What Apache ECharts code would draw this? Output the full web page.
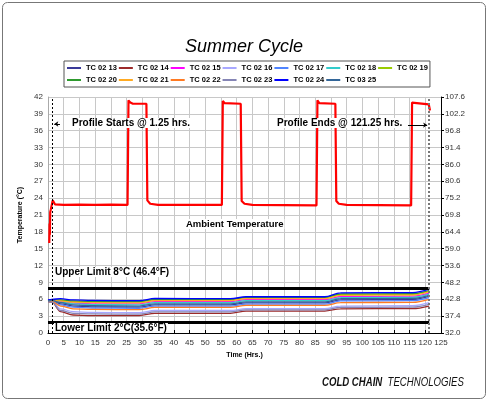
<!DOCTYPE html>
<html>
<head>
<meta charset="utf-8">
<script src="https://cdn.jsdelivr.net/npm/echarts@6/dist/echarts.min.js"></script>
<style>
  html, body { margin: 0; padding: 0; background: #fff; }
  #chart { width: 488px; height: 400px; }
</style>
</head>
<body>
<div id="chart"></div>
<script>
// time points (hrs) for the product thermocouples
const tcTimes = [0, 1.25, 4, 8, 14, 29, 34, 58, 63, 88, 93, 116, 121.25];

const tcNames = ['TC 02 13', 'TC 02 14', 'TC 02 15', 'TC 02 16', 'TC 02 17', 'TC 02 18', 'TC 02 19',
                 'TC 02 20', 'TC 02 21', 'TC 02 22', 'TC 02 23', 'TC 02 24', 'TC 03 25'];
const tcColors = ['#3a3a99', '#9c2a2a', '#ff00ff', '#a8a8ff', '#4f84ff', '#33cccc', '#99cc00',
                  '#2e9a2e', '#ffaa22', '#ff7a22', '#8585b5', '#0000ff', '#336699'];

const tc0213 = [5.7, 5.7, 5.2, 4.8, 4.65, 4.6, 5.0, 5.0, 5.35, 5.35, 5.9, 5.95, 6.5];
const tc0214 = [5.6, 5.5, 3.8, 3.2, 3.1, 3.1, 3.5, 3.5, 3.9, 3.9, 4.3, 4.35, 4.8];
const tc0215 = [5.8, 5.8, 5.6, 5.3, 5.2, 5.2, 5.6, 5.6, 5.95, 5.95, 6.5, 6.55, 7.1];
const tc0216 = [5.6, 5.6, 4.3, 3.8, 3.65, 3.6, 4.0, 4.0, 4.35, 4.35, 4.8, 4.85, 5.4];
const tc0217 = [5.7, 5.7, 5.0, 4.6, 4.45, 4.4, 4.8, 4.8, 5.15, 5.15, 5.7, 5.75, 6.3];
const tc0218 = [5.7, 5.8, 5.5, 5.2, 5.05, 5.0, 5.4, 5.4, 5.75, 5.75, 6.3, 6.35, 6.9];
const tc0219 = [5.8, 5.9, 5.8, 5.6, 5.5, 5.5, 5.9, 5.9, 6.25, 6.25, 6.85, 6.9, 7.45];
const tc0220 = [5.8, 5.9, 5.9, 5.7, 5.6, 5.6, 6.0, 6.0, 6.35, 6.35, 6.95, 7.0, 7.55];
const tc0221 = [5.8, 5.8, 5.7, 5.5, 5.4, 5.35, 5.75, 5.75, 6.1, 6.1, 6.7, 6.75, 7.35];
const tc0222 = [5.6, 5.6, 4.8, 4.3, 4.2, 4.15, 4.55, 4.55, 4.9, 4.9, 5.4, 5.45, 6.0];
const tc0223 = [5.6, 5.5, 4.0, 3.5, 3.4, 3.35, 3.75, 3.75, 4.1, 4.1, 4.55, 4.6, 5.1];
const tc0224 = [5.9, 6.0, 6.1, 5.9, 5.8, 5.75, 6.15, 6.1, 6.45, 6.45, 7.15, 7.2, 7.8];
const tc0325 = [5.7, 5.8, 5.4, 5.0, 4.85, 4.8, 5.2, 5.2, 5.55, 5.55, 6.1, 6.15, 6.7];
const tcValues = [tc0213, tc0214, tc0215, tc0216, tc0217, tc0218, tc0219,
                  tc0220, tc0221, tc0222, tc0223, tc0224, tc0325];

// ambient temperature [hrs, degC]
const ambient = [
  [0.4, 16.0], [0.5, 19.5], [0.6, 17.5], [0.7, 21.5], [0.9, 22.0], [1.2, 22.8], [1.5, 23.6], [1.9, 23.4],
  [2.2, 22.9], [5, 22.8], [10, 22.85], [15, 22.8], [20, 22.85], [25.3, 22.8],
  [25.6, 41.4], [26.2, 41.0], [27, 40.8], [31.3, 40.8],
  [31.6, 23.6], [32.5, 23.0], [35, 22.8], [45, 22.8], [55.3, 22.8],
  [55.6, 41.3], [56.2, 40.9], [61.3, 40.8],
  [61.6, 23.5], [62.5, 23.0], [65, 22.8], [75, 22.75], [85.4, 22.7],
  [85.7, 41.4], [86.3, 40.9], [91.4, 40.8],
  [91.7, 23.5], [92.5, 23.0], [95, 22.8], [105, 22.75], [115.5, 22.7],
  [115.8, 41.0], [116.4, 40.8], [121.1, 40.7], [121.5, 39.6]
];

const upperLimit = 8;
const lowerLimit = 2;
const profileStart = 1.25;
const profileEnd = 121.25;

const yTicksF = ['32.0', '37.4', '42.8', '48.2', '53.6', '59.0', '64.4', '69.8', '75.2', '80.6', '86.0', '91.4', '96.8', '102.2', '107.6'];

const chart = echarts.init(document.getElementById('chart'));

const boldTxt = {fontFamily: 'Liberation Sans, Arial', fontWeight: 'bold', fontSize: 10, fill: '#000', backgroundColor: '#fff', padding: [0, 1]};

let series = tcNames.map((n, i) => ({
  name: n,
  type: 'line',
  symbol: 'none',
  smooth: 0.35,
  smoothMonotone: 'x',
  color: tcColors[i],
  lineStyle: {width: 1.3},
  data: tcTimes.map((t, k) => [t, tcValues[i][k]]),
  z: 3
}));

series.push({
  name: 'Ambient',
  type: 'line',
  symbol: 'none',
  color: '#ff0000',
  lineStyle: {width: 2.2},
  data: ambient,
  z: 4
});

series.push({
  name: 'marks',
  type: 'line',
  data: [],
  markLine: {
    silent: true,
    symbol: 'none',
    label: {show: false},
    data: [
      [{coord: [0, upperLimit], lineStyle: {color: '#000', width: 3, type: 'solid'}}, {coord: [profileEnd, upperLimit]}],
      [{coord: [0, lowerLimit], lineStyle: {color: '#000', width: 3, type: 'solid'}}, {coord: [profileEnd, lowerLimit]}],
      {xAxis: profileStart, lineStyle: {color: '#000', width: 1, type: [2, 2]}},
      {xAxis: profileEnd, lineStyle: {color: '#777', width: 2, type: [2, 2]}},
      [{coord: [3.8, 37.2], symbol: 'none', lineStyle: {color: '#000', width: 1, type: 'solid'}},
       {coord: [2.0, 37.2], symbol: 'arrow', symbolSize: 4}],
      [{coord: [114.5, 37.0], symbol: 'none', lineStyle: {color: '#000', width: 1, type: 'solid'}},
       {coord: [120.6, 37.0], symbol: 'arrow', symbolSize: 4}]
    ]
  }
});

const axisLbl = {fontSize: 8, color: '#333', fontFamily: 'Liberation Sans, Arial'};

chart.setOption({
  animation: false,
  title: {
    text: 'Summer Cycle',
    left: 'center',
    top: 33,
    textStyle: {fontFamily: 'Liberation Sans, Arial', fontStyle: 'italic', fontWeight: 'normal', fontSize: 18, color: '#000'}
  },
  legend: {
    data: tcNames,
    left: 64,
    top: 61,
    width: 366,
    padding: [2, 2, 2, 3],
    borderColor: '#555',
    borderWidth: 1,
    itemGap: 2,
    itemWidth: 14,
    itemHeight: 2,
    icon: 'rect',
    textStyle: {fontSize: 7.5, fontWeight: 'bold', color: '#000', fontFamily: 'Liberation Sans, Arial', lineHeight: 10}
  },
  grid: {left: 48, right: 47, top: 97, bottom: 67},
  xAxis: {
    type: 'value',
    min: 0, max: 125, interval: 5,
    name: 'Time (Hrs.)',
    nameLocation: 'middle',
    nameGap: 17,
    nameTextStyle: {fontSize: 7, fontWeight: 'bold', color: '#000', fontFamily: 'Liberation Sans, Arial'},
    axisLine: {lineStyle: {color: '#000', width: 1}},
    axisTick: {inside: true, length: 3, lineStyle: {color: '#000'}},
    axisLabel: Object.assign({margin: 6}, axisLbl),
    splitLine: {lineStyle: {color: '#c8c8c8', width: 1}}
  },
  yAxis: [{
    type: 'value',
    min: 0, max: 42, interval: 3,
    name: 'Temperature (°C)',
    nameLocation: 'middle',
    nameGap: 20,
    nameRotate: 90,
    nameTextStyle: {fontSize: 7, fontWeight: 'bold', color: '#000', fontFamily: 'Liberation Sans, Arial'},
    axisLine: {show: true, lineStyle: {color: '#aaa'}},
    axisTick: {show: false},
    axisLabel: Object.assign({margin: 5}, axisLbl),
    splitLine: {lineStyle: {color: '#c8c8c8', width: 1}}
  }, {
    type: 'value',
    position: 'right',
    min: 0, max: 42, interval: 3,
    axisLine: {show: true, lineStyle: {color: '#000', width: 1}},
    axisTick: {show: true, length: 3, lineStyle: {color: '#000'}},
    axisLabel: Object.assign({margin: 4, formatter: v => yTicksF[Math.round(v / 3)]}, axisLbl),
    splitLine: {show: false}
  }],
  graphic: [
    {type: 'rect', shape: {x: 2.5, y: 2.5, width: 483, height: 396, r: 5}, style: {fill: 'none', stroke: '#777', lineWidth: 1}, z: -10},
    {type: 'text', left: 71, top: 118, style: Object.assign({}, boldTxt, {text: 'Profile Starts @ 1.25 hrs.'}), z: 10},
    {type: 'text', left: 276, top: 118, style: Object.assign({}, boldTxt, {text: 'Profile Ends @ 121.25 hrs.'}), z: 10},
    {type: 'text', left: 185, top: 219, style: Object.assign({}, boldTxt, {text: 'Ambient Temperature', fontSize: 9.5}), z: 10},
    {type: 'text', left: 54, top: 267, style: Object.assign({}, boldTxt, {text: 'Upper Limit 8°C (46.4°F)'}), z: 10},
    {type: 'text', left: 54, top: 323, style: Object.assign({}, boldTxt, {text: 'Lower Limit 2°C(35.6°F)'}), z: 10},
    {type: 'text', x: 322, y: 377, scaleX: 0.8, style: {
      text: '{a|COLD CHAIN}  {b|TECHNOLOGIES}',
      rich: {
        a: {fontFamily: 'Liberation Sans, Arial', fontStyle: 'italic', fontWeight: 'bold', fontSize: 12, fill: '#111'},
        b: {fontFamily: 'Liberation Sans, Arial', fontStyle: 'italic', fontSize: 12, fill: '#111'}
      }
    }}
  ],
  series: series
});
</script>
</body>
</html>
